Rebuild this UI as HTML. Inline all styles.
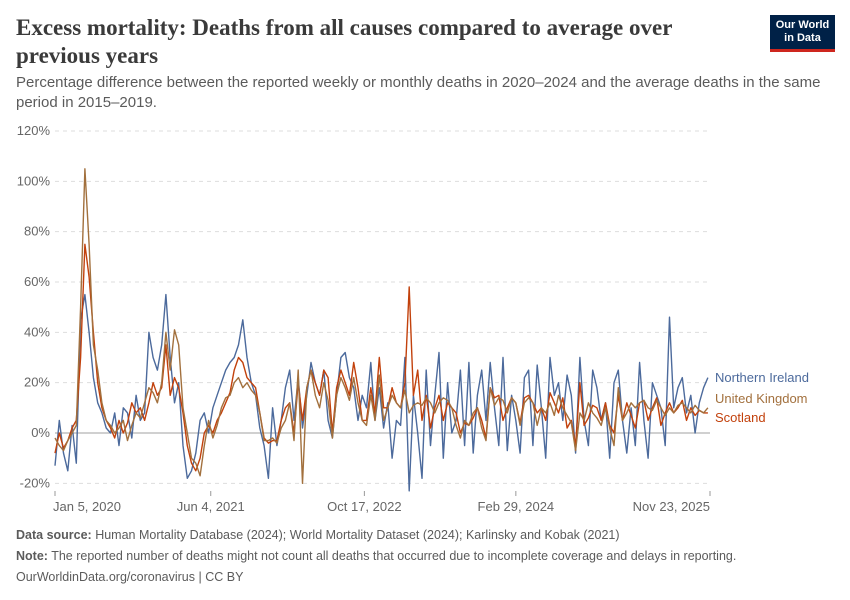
<!DOCTYPE html>
<html><head><meta charset="utf-8"><style>
body{margin:0;background:#fff;width:850px;height:600px;overflow:hidden;font-family:"Liberation Sans",sans-serif}
#title{position:absolute;left:16px;top:14px;width:720px;font-family:"Liberation Serif",serif;font-size:23px;line-height:28px;color:#3a3a3a;font-weight:bold}
#sub{position:absolute;left:16px;top:73px;width:810px;font-size:15px;line-height:20px;color:#5b5b5b}
#logo{position:absolute;left:770px;top:15px;width:65px;height:37px;background:#002147;color:#fff;font-size:11px;font-weight:bold;text-align:center;line-height:13px;padding-top:4px;box-sizing:border-box;border-bottom:3px solid #ce261e}
.foot{position:absolute;left:16px;font-size:12.5px;color:#5b5b5b}
</style></head><body>
<div id="title">Excess mortality: Deaths from all causes compared to average over previous years</div>
<div id="sub">Percentage difference between the reported weekly or monthly deaths in 2020–2024 and the average deaths in the same period in 2015–2019.</div>
<div id="logo">Our World<br>in Data</div>
<svg id="chart" width="850" height="600" style="position:absolute;left:0;top:0"></svg>
<div class="foot" style="top:528px"><b>Data source:</b> Human Mortality Database (2024); World Mortality Dataset (2024); Karlinsky and Kobak (2021)</div>
<div class="foot" style="top:549px"><b>Note:</b> The reported number of deaths might not count all deaths that occurred due to incomplete coverage and delays in reporting.</div>
<div class="foot" style="top:570px">OurWorldinData.org/coronavirus | CC BY</div>
<script>
const yTicks=[-20,0,20,40,60,80,100,120];
const xTickLabels=["Jan 5, 2020","Jun 4, 2021","Oct 17, 2022","Feb 29, 2024","Nov 23, 2025"];
const xTickWeeks=[0,73,145,216,307];
const weekStep=2;
const ukValues=[-2,-5,-7,-3,0,3,50,105,75,35,25,12,5,3,0,2,5,-3,3,8,6,12,18,16,12,20,40,25,41,35,10,0,-10,-12,-17,-5,5,-2,3,10,14,15,20,22,18,20,17,15,8,-3,-3,-2,-4,2,5,12,-3,25,-20,18,25,15,10,20,13,-2,15,22,18,13,22,12,5,3,15,5,23,5,10,15,12,10,17,8,11,12,11,14,12,8,12,14,13,10,3,-2,5,3,8,10,2,-3,18,11,14,13,8,14,12,3,12,14,12,3,10,8,12,7,15,10,7,4,-7,8,5,12,8,6,3,10,2,-5,18,5,8,12,10,12,13,10,9,13,10,7,10,8,11,12,10,8,11,9,8,10];
const scotlandValues=[-8,0,-6,-3,2,5,30,75,62,40,20,10,5,2,-2,5,0,4,12,8,10,5,12,20,15,18,35,15,22,18,8,-5,-12,-15,-10,0,3,0,5,8,12,16,25,30,28,22,20,18,8,-2,-4,-3,-3,5,10,12,0,20,5,18,25,20,15,25,22,0,18,25,20,15,28,18,5,5,18,8,30,10,10,18,12,10,20,58,15,25,5,15,2,10,15,5,12,10,8,0,4,3,6,10,5,-2,18,14,15,5,10,14,12,4,14,15,12,8,10,5,16,12,8,14,2,5,-5,20,3,6,11,10,5,12,3,0,15,5,12,7,2,12,13,5,10,14,3,8,12,8,10,13,5,10,7,9,8,8];
const niValues=[-13,5,-8,-15,3,-12,45,55,40,22,12,8,2,0,8,-5,10,8,-2,15,5,8,40,30,25,35,55,30,12,20,-5,-18,-15,-8,5,8,0,10,15,20,25,28,30,35,45,30,20,15,2,-5,-18,10,-5,5,18,25,5,22,2,15,28,20,15,25,5,-2,15,30,32,22,18,5,15,10,28,5,18,2,12,-10,5,3,30,-23,15,0,-18,25,-5,15,32,-10,20,0,5,25,-5,28,-8,15,25,5,28,10,-5,30,-7,15,5,-8,22,25,-5,27,10,-10,30,15,20,5,23,15,-8,30,5,-5,25,18,5,12,-10,20,25,5,-8,10,-5,28,5,-10,20,15,10,-5,46,10,18,22,8,15,0,12,18,22];
const seriesNames=["Northern Ireland","United Kingdom","Scotland"];
const NS="http://www.w3.org/2000/svg";
const svg=document.getElementById('chart');
const X0=55,X1=710,Y0=433,PX=(433-131)/120;
const x=w=>X0+w*(X1-X0)/307;
const y=v=>Y0-v*PX;
function mk(t,a){const e=document.createElementNS(NS,t);for(const k in a)e.setAttribute(k,a[k]);svg.appendChild(e);return e;}
yTicks.forEach(v=>{
  const l=mk('line',{x1:55,x2:710,y1:y(v),y2:y(v),stroke:v===0?'#a0a0a0':'#dddddd','stroke-dasharray':v===0?'':'4,4','stroke-width':1});
  
  
  const t=mk('text',{x:50,y:y(v)+4,'text-anchor':'end','font-size':13,fill:'#666'});
  t.textContent=v+'%';
  
  
});
xTickLabels.forEach((s,i)=>{
  const px=x(xTickWeeks[i]);
  const tk=mk('line',{x1:px,x2:px,y1:491,y2:496,stroke:'#999'});
  
  
  const anchor=i===0?'start':(i===xTickLabels.length-1?'end':'middle');
  const t=mk('text',{x:i===0?px-2:px,y:511,'text-anchor':anchor,'font-size':13,fill:'#666'});
  t.textContent=s;
  
  
});
const cols=['#4c6a9c','#a2703d','#c2410c'];
const data=[niValues,ukValues,scotlandValues];
[0,2,1].forEach(i=>{
  const d=data[i].map((v,j)=>(j?'L':'M')+x(j*weekStep).toFixed(1)+','+y(v).toFixed(1)).join('');
  const p=mk('path',{d:d,fill:'none',stroke:cols[i],'stroke-width':1.4,'stroke-linejoin':'round'});
  
  
});
const ly=[382,403,422];
seriesNames.forEach((n,i)=>{
  const t=mk('text',{x:715,y:ly[i],'font-size':13,fill:cols[i]});
  t.textContent=n;
  
  
});
</script>
</body></html>
